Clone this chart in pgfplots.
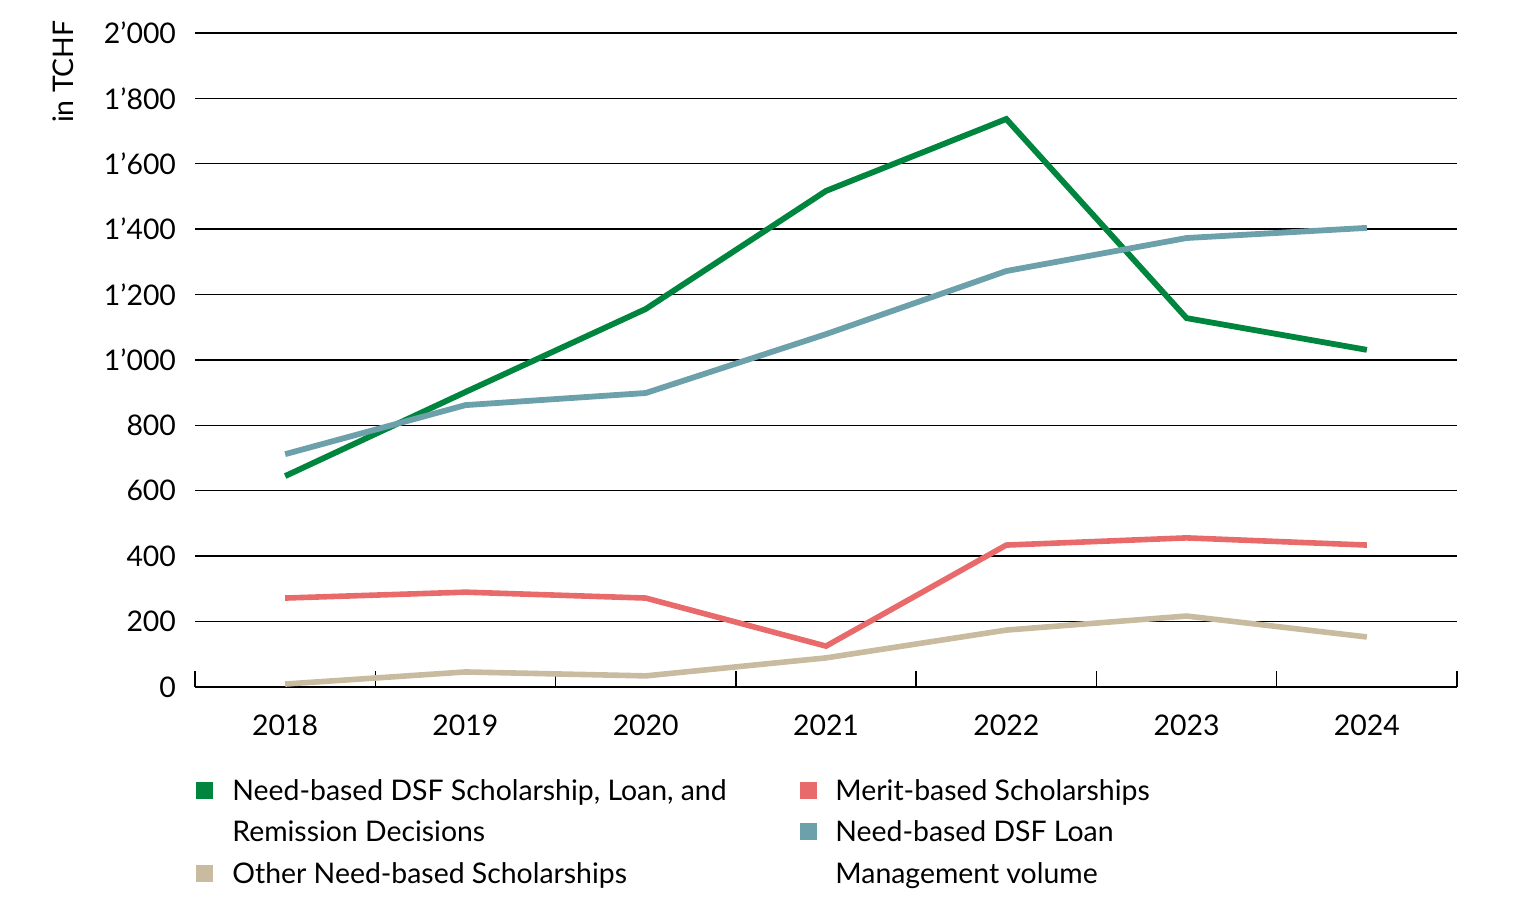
\documentclass[border=0pt]{standalone}
\usepackage{fontspec}
\setmainfont{Lato}
\usepackage{pgfplots}
\pgfplotsset{compat=1.18}
\definecolor{dsfgreen}{RGB}{0,133,62}
\definecolor{loanteal}{RGB}{108,160,170}
\definecolor{meritred}{RGB}{232,106,106}
\definecolor{othertan}{RGB}{200,187,160}

\begin{document}
\begin{tikzpicture}[font=\fontsize{14.2}{17}\selectfont]
\useasboundingbox (0,0) rectangle (760.5pt,452pt);
\begin{axis}[
    at={(97.5pt,108.5pt)}, anchor=south west,
    scale only axis, width=631pt, height=327pt,
    xmin=-0.5, xmax=6.5, ymin=0, ymax=2000,
    axis x line=bottom, axis y line=left,
    axis line style={-},
    x axis line style={black, line width=0.7pt},
    y axis line style={draw=none},
    xtick={0,...,6},
    xticklabels={2018,2019,2020,2021,2022,2023,2024},
    major tick length=0pt,
    extra x ticks={-0.5,0.5,1.5,2.5,3.5,4.5,5.5,6.5},
    extra x tick labels={},
    extra x tick style={major tick length=8pt, tick align=inside,
        tick style={black, line width=0.7pt}},
    ytick={0,200,...,2000},
    yticklabel={\pgfmathprintnumber[assume math mode=true,1000 sep={’}]{\tick}},
    yticklabel style={xshift=-6pt},
    xticklabel style={yshift=-10.5pt},
    ymajorgrids,
    grid style={black, line width=0.7pt},
    clip=false,
]
\addplot[dsfgreen, line width=2.9pt] coordinates {
    (0,645) (1,902) (2,1156) (3,1517) (4,1737) (5,1128) (6,1031)
};
\addplot[loanteal, line width=2.9pt] coordinates {
    (0,712) (1,862) (2,899) (3,1079) (4,1272) (5,1373) (6,1404)
};
\addplot[meritred, line width=2.8pt] coordinates {
    (0,272) (1,290) (2,272) (3,125) (4,434) (5,456) (6,434)
};
\addplot[othertan, line width=2.8pt] coordinates {
    (0,9) (1,46) (2,34) (3,89) (4,174) (5,217) (6,153)
};
\end{axis}
\node[rotate=90, anchor=east, inner sep=0pt] at (31.5pt,442pt) {in TCHF};
% legend
\fill[dsfgreen] (98pt,52.5pt) rectangle ++(8.5pt,8.5pt);
\node[anchor=base west, inner sep=0pt] at (116pt,51.5pt) {Need-based DSF Scholarship, Loan, and};
\node[anchor=base west, inner sep=0pt] at (116pt,31pt) {Remission Decisions};
\fill[othertan] (98pt,11pt) rectangle ++(8.5pt,8.5pt);
\node[anchor=base west, inner sep=0pt] at (116pt,10pt) {Other Need-based Scholarships};
\fill[meritred] (400pt,52.5pt) rectangle ++(8.5pt,8.5pt);
\node[anchor=base west, inner sep=0pt] at (417.5pt,51.5pt) {Merit-based Scholarships};
\fill[loanteal] (400pt,32pt) rectangle ++(8.5pt,8.5pt);
\node[anchor=base west, inner sep=0pt] at (417.5pt,31pt) {Need-based DSF Loan};
\node[anchor=base west, inner sep=0pt] at (417.5pt,10pt) {Management volume};
\end{tikzpicture}
\end{document}
